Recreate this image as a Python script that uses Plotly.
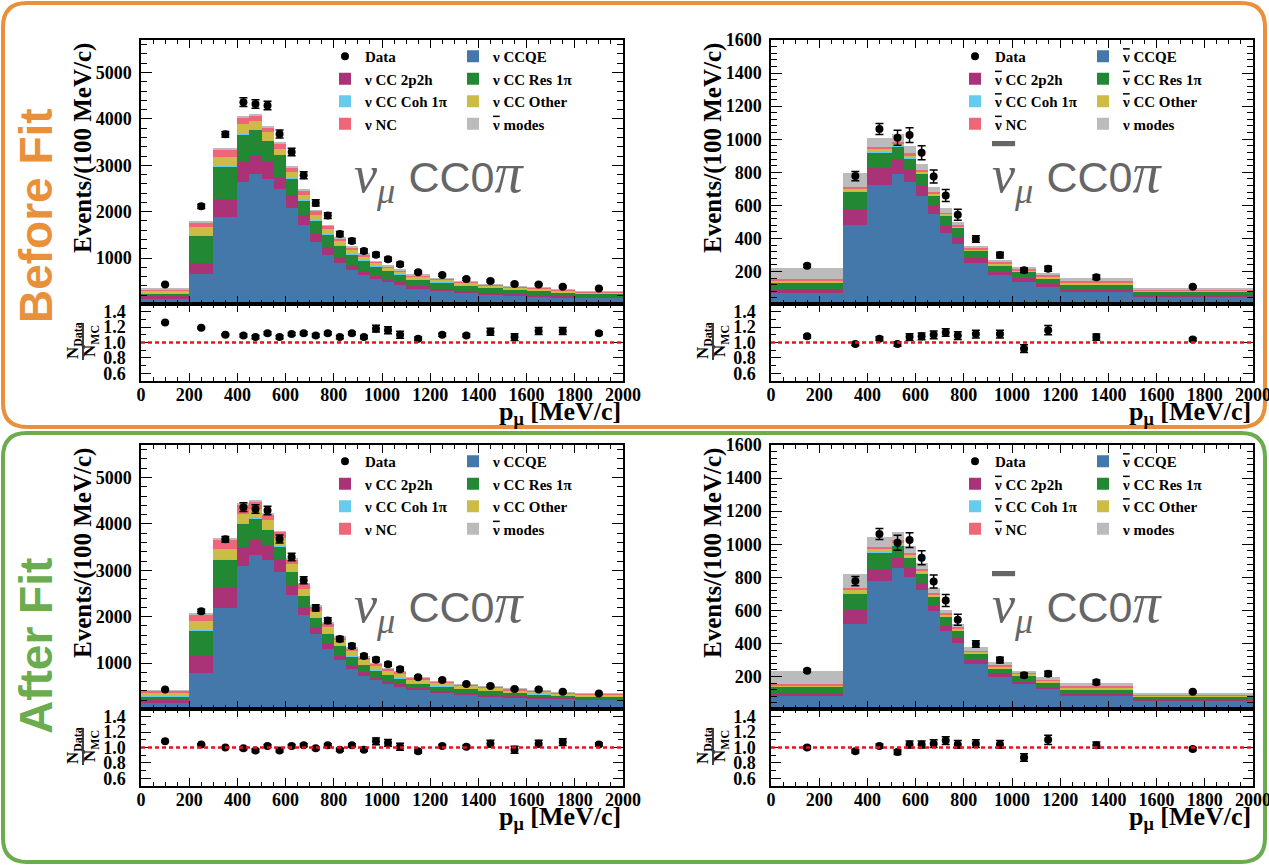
import plotly.graph_objects as go

W, H = 1269, 865

# ---------------- binning (MeV/c) ----------------
NU_EDGES = [0, 200, 300, 400, 450, 500, 550, 600, 650, 700, 750, 800, 850, 900, 950,
            1000, 1050, 1100, 1200, 1300, 1400, 1500, 1600, 1700, 1800, 2000]
NUBAR_EDGES = [0, 300, 400, 500, 550, 600, 650, 700, 750, 800, 900, 1000, 1100, 1200, 1500, 2000]

# ---------------- nu_mu CC0pi sample (Events / 100 MeV/c) ----------------
NU_DATA = [430, 2115, 3668, 4360, 4321, 4288, 3676, 3288, 2786, 2190, 1918, 1520, 1370,
           1151, 1075, 975, 867, 695, 634, 548, 508, 444, 430, 383, 343]
NU_DATA_ERR = [15, 46, 61, 93, 93, 93, 86, 81, 75, 66, 62, 55, 52, 48, 46, 44, 42, 26,
               25, 23, 23, 21, 21, 20, 13]

NU_PRE_CCQE = [130, 661, 1879, 2648, 2814, 2713, 2484, 2087, 1713, 1346, 1071, 886, 741,
               633, 547, 475, 417, 345, 281, 244, 216, 194, 173, 158, 143]
NU_PRE_2P2H = [56, 238, 389, 419, 411, 376, 251, 274, 209, 166, 167, 114, 108, 93, 71, 57,
               58, 50, 49, 43, 35, 29, 28, 28, 21]
NU_PRE_RES = [51, 583, 705, 605, 540, 438, 490, 361, 324, 302, 281, 274, 237, 231, 203,
              194, 173, 137, 145, 130, 116, 101, 93, 80, 65]
NU_PRE_COH = [1, 6, 9, 9, 8, 7, 6, 5, 5, 4, 4, 3, 3, 3, 2, 2, 2, 2, 2, 1, 1, 1, 1, 1, 1]
NU_PRE_OTHER = [57, 173, 202, 201, 173, 180, 130, 121, 115, 108, 101, 93, 87, 65, 65, 65,
                56, 64, 57, 50, 43, 50, 43, 36, 37]
NU_PRE_NC = [36, 108, 158, 145, 129, 101, 114, 101, 101, 93, 71, 59, 58, 58, 43, 36, 37,
             37, 29, 22, 22, 21, 22, 22, 21]
NU_PRE_WS = [4, 12, 20, 22, 22, 20, 18, 16, 14, 12, 10, 8, 7, 6, 6, 5, 5, 4, 4, 3, 3, 3,
             3, 2, 2]
NU_PRE_RATIO = [1.26, 1.19, 1.10, 1.09, 1.07, 1.12, 1.07, 1.11, 1.12, 1.09, 1.12, 1.07,
                1.12, 1.07, 1.18, 1.16, 1.10, 1.05, 1.10, 1.09, 1.14, 1.07, 1.15, 1.15, 1.12]
NU_PRE_RATIO_ERR = [0.01, 0.01, 0.01, 0.02, 0.02, 0.02, 0.02, 0.02, 0.02, 0.02, 0.02,
                    0.02, 0.02, 0.02, 0.045, 0.045, 0.045, 0.02, 0.02, 0.02, 0.045, 0.045,
                    0.045, 0.045, 0.02]

NU_POST_CCQE = [157, 786, 2193, 3100, 3329, 3215, 2965, 2472, 2029, 1629, 1300, 1072, 879,
                729, 629, 557, 500, 414, 357, 314, 286, 257, 243, 229, 214]
NU_POST_2P2H = [43, 378, 429, 400, 328, 300, 278, 207, 171, 143, 129, 92, 85, 71, 57, 50,
                43, 43, 36, 36, 28, 29, 21, 21, 22]
NU_POST_RES = [86, 536, 607, 507, 465, 364, 272, 286, 250, 214, 214, 208, 179, 164, 157,
               143, 128, 114, 107, 93, 86, 71, 65, 57, 50]
NU_POST_COH = [1, 6, 9, 9, 8, 7, 6, 5, 5, 4, 4, 3, 3, 3, 2, 2, 2, 2, 2, 1, 1, 1, 1, 1, 1]
NU_POST_OTHER = [71, 193, 221, 208, 185, 193, 185, 157, 150, 143, 129, 114, 121, 108, 100,
                 93, 100, 72, 71, 71, 64, 57, 50, 43, 35]
NU_POST_NC = [50, 157, 207, 199, 165, 128, 122, 107, 100, 86, 85, 71, 58, 50, 43, 43, 36,
              36, 36, 29, 29, 29, 21, 21, 22]
NU_POST_WS = [4, 13, 21, 23, 23, 21, 19, 17, 15, 13, 11, 9, 8, 7, 6, 5, 5, 4, 4, 3, 3, 3,
              3, 2, 2]
NU_POST_RATIO = [1.08, 1.04, 1.00, 0.99, 0.96, 1.02, 0.96, 1.02, 1.03, 0.99, 1.03, 0.97,
                 1.03, 0.97, 1.08, 1.06, 1.01, 0.95, 1.02, 1.01, 1.05, 0.97, 1.05, 1.07, 1.04]
NU_POST_RATIO_ERR = NU_PRE_RATIO_ERR

# ---------------- anti-nu_mu CC0pi sample (Events / 100 MeV/c) ----------------
NUBAR_DATA = [235, 777, 1062, 1009, 1025, 918, 774, 659, 543, 396, 299, 207, 217, 165, 107]
NUBAR_DATA_ERR = [9, 28, 33, 45, 45, 43, 39, 36, 33, 20, 17, 14, 15, 13, 5]

NUBAR_PRE_CCQE = [70, 482, 721, 787, 741, 659, 546, 434, 364, 249, 179, 139, 109, 77, 48]
NUBAR_PRE_2P2H = [23, 95, 104, 91, 80, 62, 57, 46, 46, 30, 22, 22, 18, 14, 10]
NUBAR_PRE_RES = [40, 108, 97, 80, 65, 70, 58, 58, 54, 46, 38, 38, 32, 32, 20]
NUBAR_PRE_COH = [1, 3, 3, 3, 2, 2, 2, 1, 1, 1, 1, 1, 1, 1, 0]
NUBAR_PRE_OTHER = [12, 14, 16, 14, 14, 12, 11, 9, 8, 8, 8, 7, 8, 9, 7]
NUBAR_PRE_NC = [10, 10, 10, 10, 12, 8, 9, 7, 8, 7, 8, 7, 8, 9, 6]
NUBAR_PRE_WS = [62, 82, 58, 46, 46, 37, 26, 27, 20, 16, 14, 14, 14, 16, 12]
NUBAR_PRE_RATIO = [1.08, 0.98, 1.05, 0.98, 1.07, 1.08, 1.10, 1.13, 1.09, 1.11, 1.11, 0.92,
                   1.16, 1.07, 1.04]
NUBAR_PRE_RATIO_ERR = [0.02, 0.02, 0.025, 0.03, 0.045, 0.045, 0.05, 0.05, 0.05, 0.05,
                       0.05, 0.05, 0.06, 0.04, 0.02]

NUBAR_POST_CCQE = [79, 516, 778, 855, 804, 722, 597, 476, 402, 275, 198, 154, 123, 79, 53]
NUBAR_POST_2P2H = [24, 85, 75, 64, 55, 43, 36, 30, 30, 24, 20, 15, 14, 14, 7]
NUBAR_POST_RES = [34, 103, 97, 71, 60, 60, 49, 55, 48, 40, 32, 35, 26, 30, 19]
NUBAR_POST_COH = [1, 3, 3, 3, 2, 2, 2, 1, 1, 1, 1, 1, 1, 1, 0]
NUBAR_POST_OTHER = [6, 14, 16, 14, 17, 14, 12, 12, 8, 8, 12, 10, 11, 10, 6]
NUBAR_POST_NC = [8, 16, 14, 16, 10, 10, 8, 8, 8, 8, 8, 6, 6, 8, 6]
NUBAR_POST_WS = [83, 85, 60, 50, 44, 36, 30, 22, 20, 20, 14, 14, 14, 16, 12]
NUBAR_POST_RATIO = [1.00, 0.95, 1.02, 0.94, 1.04, 1.04, 1.05, 1.09, 1.04, 1.05, 1.04, 0.87,
                    1.10, 1.03, 0.98]
NUBAR_POST_RATIO_ERR = NUBAR_PRE_RATIO_ERR

NUB = '<span style="text-decoration:overline">ν</span>'
NU_LABELS = ["ν CCQE", "ν CC 2p2h", "ν CC Res 1π", "ν CC Coh 1π", "ν CC Other", "ν NC",
             NUB + " modes"]
NUBAR_LABELS = [NUB + " CCQE", NUB + " CC 2p2h", NUB + " CC Res 1π", NUB + " CC Coh 1π",
                NUB + " CC Other", NUB + " NC", "ν modes"]

# ---------------- styling ----------------
COLORS = ["#4477AA", "#AA3377", "#228833", "#66CCEE", "#CCBB44", "#EE6677", "#BBBBBB"]
# legend column (A = left, B = right) and rank within the column
LEG_COL = ["B", "A", "B", "A", "B", "A", "B"]
LEG_RANK = [2, 2, 3, 3, 4, 4, 5]

SERIF = "Liberation Serif"
SANS = "Liberation Sans"
TICKFONT = dict(family=SERIF, size=18, color="black", weight="bold")


def px_x(p):
    return p / W


def px_y(p):
    return 1 - p / H


def centers(edges):
    return [(a + b) / 2 for a, b in zip(edges[:-1], edges[1:])]


def widths(edges):
    return [b - a for a, b in zip(edges[:-1], edges[1:])]


PANELS = [
    dict(edges=NU_EDGES, data=NU_DATA, derr=NU_DATA_ERR, labels=NU_LABELS,
         comps=[NU_PRE_CCQE, NU_PRE_2P2H, NU_PRE_RES, NU_PRE_COH, NU_PRE_OTHER, NU_PRE_NC, NU_PRE_WS],
         ratio=NU_PRE_RATIO, rerr=NU_PRE_RATIO_ERR, col="L", row="T", ymax=5700, dmaj=1000, dmin=200,
         anti=False),
    dict(edges=NUBAR_EDGES, data=NUBAR_DATA, derr=NUBAR_DATA_ERR, labels=NUBAR_LABELS,
         comps=[NUBAR_PRE_CCQE, NUBAR_PRE_2P2H, NUBAR_PRE_RES, NUBAR_PRE_COH, NUBAR_PRE_OTHER,
                NUBAR_PRE_NC, NUBAR_PRE_WS],
         ratio=NUBAR_PRE_RATIO, rerr=NUBAR_PRE_RATIO_ERR, col="R", row="T", ymax=1600, dmaj=200, dmin=40,
         anti=True),
    dict(edges=NU_EDGES, data=NU_DATA, derr=NU_DATA_ERR, labels=NU_LABELS,
         comps=[NU_POST_CCQE, NU_POST_2P2H, NU_POST_RES, NU_POST_COH, NU_POST_OTHER, NU_POST_NC,
                NU_POST_WS],
         ratio=NU_POST_RATIO, rerr=NU_POST_RATIO_ERR, col="L", row="B", ymax=5700, dmaj=1000, dmin=200,
         anti=False),
    dict(edges=NUBAR_EDGES, data=NUBAR_DATA, derr=NUBAR_DATA_ERR, labels=NUBAR_LABELS,
         comps=[NUBAR_POST_CCQE, NUBAR_POST_2P2H, NUBAR_POST_RES, NUBAR_POST_COH, NUBAR_POST_OTHER,
                NUBAR_POST_NC, NUBAR_POST_WS],
         ratio=NUBAR_POST_RATIO, rerr=NUBAR_POST_RATIO_ERR, col="R", row="B", ymax=1600, dmaj=200,
         dmin=40, anti=True),
]

X_DOM = {"L": (141, 623), "R": (771, 1253)}
MAIN_Y = {"T": (40, 304), "B": (445, 709)}
RATIO_Y = {"T": (304, 381), "B": (709, 786)}
ROW_OFF = {"T": 0, "B": 405}

fig = go.Figure()
layout = dict(width=W, height=H, margin=dict(l=0, r=0, t=0, b=0, pad=0, autoexpand=False),
              autosize=False, paper_bgcolor="white", plot_bgcolor="white", barmode="stack",
              showlegend=True, annotations=[], shapes=[])


def axis_base():
    return dict(showline=True, linecolor="black", linewidth=1.5, mirror="ticks",
                ticks="inside", tickcolor="black", tickwidth=1.2, showgrid=False,
                zeroline=False, tickfont=TICKFONT, automargin=False,
                ticklabeloverflow="allow")


def note(text, xp, yp, size, family=SERIF, color="black", angle=0, xanchor="center",
         yanchor="middle", weight="bold"):
    return dict(text=text, textangle=angle, x=px_x(xp), y=px_y(yp), xref="paper", yref="paper",
                xanchor=xanchor, yanchor=yanchor, showarrow=False,
                font=dict(family=family, size=size, color=color, weight=weight))


for i, p in enumerate(PANELS):
    k = i + 1
    kr = i + 5
    xa, ya = f"x{k}" if k > 1 else "x", f"y{k}" if k > 1 else "y"
    xr, yr = f"x{kr}", f"y{kr}"
    legA = "legend" if i == 0 else f"legend{2 * i + 1}"
    legB = f"legend{2 * i + 2}"
    cx, wd = centers(p["edges"]), widths(p["edges"])

    # stacked MC histograms
    for j, (vals, name) in enumerate(zip(p["comps"], p["labels"])):
        fig.add_trace(go.Bar(
            x=cx, y=vals, width=wd, name=name, xaxis=xa, yaxis=ya,
            marker=dict(color=COLORS[j], line=dict(width=0)),
            legend=legA if LEG_COL[j] == "A" else legB, legendrank=LEG_RANK[j],
            hoverinfo="skip"))
    # data points
    fig.add_trace(go.Scatter(
        x=cx, y=p["data"], mode="markers", name="Data", xaxis=xa, yaxis=ya,
        marker=dict(color="black", size=8, symbol="circle"),
        error_y=dict(type="data", array=p["derr"], color="black", thickness=1.5, width=4),
        legend=legA, legendrank=1, hoverinfo="skip"))
    # ratio points
    fig.add_trace(go.Scatter(
        x=cx, y=p["ratio"], mode="markers", xaxis=xr, yaxis=yr, showlegend=False,
        marker=dict(color="black", size=8),
        error_y=dict(type="data", array=p["rerr"], color="black", thickness=1.5, width=4),
        hoverinfo="skip"))

    x0, x1 = X_DOM[p["col"]]
    my0, my1 = MAIN_Y[p["row"]]
    ry0, ry1 = RATIO_Y[p["row"]]
    off = ROW_OFF[p["row"]]
    xd = [px_x(x0), px_x(x1)]

    xmain = axis_base()
    xmain.update(domain=xd, anchor=ya, range=[0, 2000], tick0=0, dtick=200, ticklen=8,
                 showticklabels=False,
                 minor=dict(ticks="inside", tick0=0, dtick=50, ticklen=4, tickcolor="black"))
    ymain = axis_base()
    ymain.update(domain=[px_y(my1), px_y(my0)], anchor=xa, range=[p["ymax"] * 0.002, p["ymax"]],
                 tick0=0, dtick=p["dmaj"], ticklen=11, ticklabelstandoff=4,
                 minor=dict(ticks="inside", tick0=0, dtick=p["dmin"], ticklen=6, tickcolor="black"))
    xrat = axis_base()
    xrat.update(domain=xd, anchor=yr, range=[0, 2000], tick0=0, dtick=200, ticklen=8,
                ticklabelstandoff=-3,
                minor=dict(ticks="inside", tick0=0, dtick=50, ticklen=4, tickcolor="black"))
    yrat = axis_base()
    yrat.update(domain=[px_y(ry1), px_y(ry0)], anchor=xr, range=[0.5, 1.5], tick0=0, dtick=0.2,
                tickformat=".1f", ticklen=10, ticklabelstandoff=10,
                minor=dict(ticks="inside", tick0=0, dtick=0.1, ticklen=5, tickcolor="black"))
    layout["xaxis" if k == 1 else f"xaxis{k}"] = xmain
    layout["yaxis" if k == 1 else f"yaxis{k}"] = ymain
    layout[f"xaxis{kr}"] = xrat
    layout[f"yaxis{kr}"] = yrat

    # reference line at ratio = 1
    layout["shapes"].append(dict(type="line", xref=f"{xr} domain", x0=0, x1=1, yref=yr, y0=1, y1=1,
                                 line=dict(color="#E8141B", width=2.5, dash="4px,3px"), layer="above"))

    # legends (two columns)
    lx = x0 + 184
    leg_common = dict(xanchor="left", yanchor="top", bgcolor="rgba(0,0,0,0)", borderwidth=0,
                      font=dict(family=SERIF, size=15, color="black", weight="bold"),
                      itemwidth=30, tracegroupgap=0, traceorder="normal", orientation="v")
    layout[legA] = dict(x=px_x(lx), y=px_y(40 + off), **leg_common)
    layout[legB] = dict(x=px_x(lx + 128), y=px_y(40 + off), **leg_common)

    # axis titles
    layout["annotations"].append(note("Events/(100 MeV/c)", x0 - 58, 148 + off, 25, angle=-90))
    layout["annotations"].append(note("N<sub>Data</sub>", x0 - 67, 341 + off, 17, angle=-90))
    layout["annotations"].append(note("N<sub>MC</sub>", x0 - 50, 341 + off, 17, angle=-90))
    layout["shapes"].append(dict(type="line", xref="paper", yref="paper",
                                 x0=px_x(x0 - 58), x1=px_x(x0 - 58), y0=px_y(323 + off),
                                 y1=px_y(360 + off), line=dict(color="black", width=1.5)))
    layout["annotations"].append(note("p<sub>μ</sub> [MeV/c]", x1, 413 + off, 26, xanchor="right"))

    # sample label
    nu = NUB if p["anti"] else "ν"
    lab_y = 176 if p["row"] == "T" else 606
    layout["annotations"].append(note(
        f"<i>{nu}</i><sub><i>μ</i></sub> <span style=\"font-family:{SANS};font-size:43px\">CC0</span>"
        f"<span style=\"font-size:56px\"><i>π</i></span>",
        x0 + 211 + (8 if p["anti"] else 0), lab_y, 52, family=SERIF, color="#666666",
        xanchor="left", weight="normal"))


def rounded_box(x0, y0, x1, y1, r):
    def P(x, y):
        return f"{x / W:.5f},{1 - y / H:.5f}"
    return (f"M{P(x0 + r, y0)} L{P(x1 - r, y0)} Q{P(x1, y0)} {P(x1, y0 + r)} "
            f"L{P(x1, y1 - r)} Q{P(x1, y1)} {P(x1 - r, y1)} L{P(x0 + r, y1)} "
            f"Q{P(x0, y1)} {P(x0, y1 - r)} L{P(x0, y0 + r)} Q{P(x0, y0)} {P(x0 + r, y0)} Z")


ORANGE = "#E8913A"
GREEN = "#6AAC4E"
layout["shapes"].append(dict(type="path", xref="paper", yref="paper",
                             path=rounded_box(3, 3, 1265, 427, 24),
                             line=dict(color=ORANGE, width=4), layer="below"))
layout["shapes"].append(dict(type="path", xref="paper", yref="paper",
                             path=rounded_box(3, 433, 1265, 862, 24),
                             line=dict(color=GREEN, width=4), layer="below"))
layout["annotations"].append(note("Before Fit", 36, 216, 46, family=SANS, color=ORANGE, angle=-90))
layout["annotations"].append(note("After Fit", 36, 646, 46, family=SANS, color=GREEN, angle=-90))

fig.update_layout(**layout)
fig.write_html("out.html")
